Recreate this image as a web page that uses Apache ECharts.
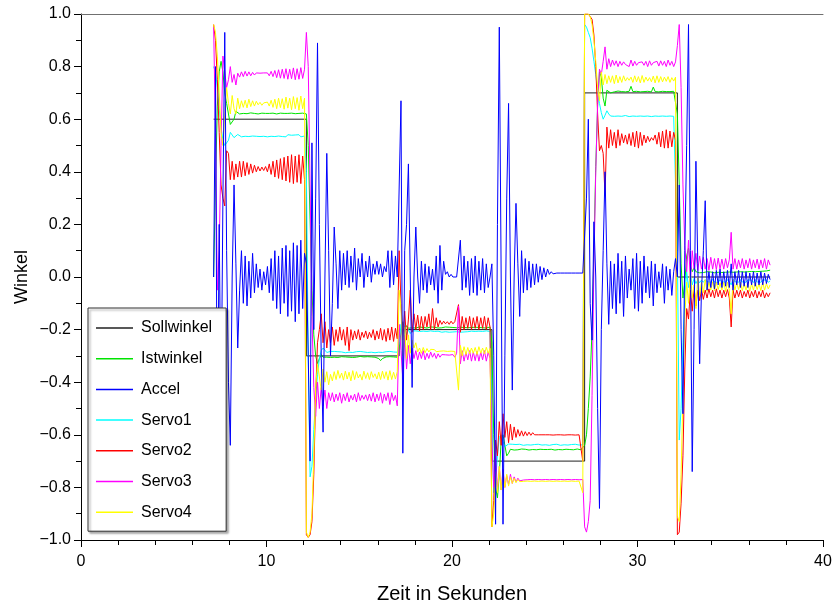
<!DOCTYPE html>
<html>
<head>
<meta charset="utf-8">
<script src="https://cdn.jsdelivr.net/npm/echarts@6/dist/echarts.min.js"></script>
<style>
html,body{margin:0;padding:0;background:#fff;}
#chart{width:837px;height:605px;}
</style>
</head>
<body>
<div id="chart"></div>
<script>
// sampling of the recorded signals: first sample time and spacing (s)
const tStart = 7.15;
const tStep = 0.1;

const seriesNames = ['Sollwinkel','Istwinkel','Accel','Servo1','Servo2','Servo3','Servo4'];
const xTicks = [0, 10, 20, 30, 40];

// Sollwinkel: step function (time, value)
const sollT = [7.15, 12.15, 12.15, 17.15, 17.15, 22.15, 22.15, 27.15, 27.15, 32.15, 32.15, 37.15];
const sollV = [0.6, 0.6, -0.3, -0.3, -0.2, -0.2, -0.7, -0.7, 0.7, 0.7, 0.0, 0.0];

const istwinkel = [
0.0,0.35,0.65,0.78,0.82,0.78,0.70,0.66,0.62,0.58,0.575,0.60,0.63,0.635,0.62,0.615,0.622,0.623,0.621,0.622,0.624,0.621,0.622,0.623,0.62,0.622,0.623,0.621,0.622,0.624,0.622,0.621,0.623,0.622,0.62,0.622,0.623,0.621,0.622,0.624,0.622,0.621,0.623,0.622,0.621,0.623,0.622,0.621,0.623,0.622,
0.62,0.5,0.22,-0.05,-0.22,-0.3,-0.33,-0.31,-0.295,-0.305,-0.31,-0.305,-0.303,-0.306,-0.303,-0.305,-0.302,-0.306,-0.304,-0.303,-0.306,-0.304,-0.302,-0.305,-0.304,-0.306,-0.303,-0.305,-0.304,-0.302,-0.306,-0.304,-0.305,-0.303,-0.306,-0.304,-0.303,-0.305,-0.304,-0.31,-0.318,-0.31,-0.305,-0.304,-0.306,-0.303,-0.305,-0.304,-0.303,-0.305,
-0.27,-0.21,-0.17,-0.2,-0.185,-0.195,-0.19,-0.193,-0.191,-0.194,-0.192,-0.19,-0.193,-0.192,-0.191,-0.194,-0.192,-0.19,-0.193,-0.191,-0.192,-0.194,-0.191,-0.193,-0.192,-0.19,-0.193,-0.191,-0.194,-0.192,-0.19,-0.193,-0.192,-0.191,-0.194,-0.192,-0.19,-0.193,-0.191,-0.192,-0.194,-0.191,-0.193,-0.192,-0.19,-0.193,-0.191,-0.194,-0.192,-0.19,
-0.25,-0.6,-0.8,-0.84,-0.75,-0.62,-0.6,-0.64,-0.68,-0.67,-0.655,-0.65,-0.658,-0.655,-0.657,-0.656,-0.654,-0.657,-0.655,-0.656,-0.658,-0.655,-0.656,-0.654,-0.657,-0.656,-0.655,-0.657,-0.656,-0.654,-0.656,-0.657,-0.655,-0.656,-0.658,-0.655,-0.656,-0.654,-0.657,-0.656,-0.655,-0.657,-0.656,-0.655,-0.657,-0.656,-0.654,-0.656,-0.657,-0.655,
-0.64,-0.6,-0.5,-0.38,-0.2,0.1,0.42,0.65,0.78,0.76,0.68,0.65,0.71,0.715,0.70,0.706,0.704,0.705,0.707,0.704,0.705,0.706,0.704,0.705,0.706,0.725,0.705,0.704,0.706,0.705,0.704,0.706,0.705,0.704,0.706,0.705,0.704,0.722,0.705,0.706,0.704,0.705,0.706,0.704,0.705,0.706,0.705,0.704,0.706,0.705,
0.62,0.35,0.05,-0.08,-0.02,0.08,0.11,0.05,0.02,0.035,0.02,0.018,0.016,0.019,0.017,0.018,0.02,0.017,0.019,0.018,0.016,0.019,0.018,0.02,0.017,0.019,0.018,0.02,0.019,0.021,0.018,0.02,0.019,0.021,0.02,0.022,0.019,0.021,0.02,0.022,0.021,0.023,0.02,0.022,0.021,0.024,0.022,0.025,0.023,0.025,0.026
];

const accel = [
0.0,0.8,-0.7,0.2,-0.55,0.3,0.93,0.1,-0.4,-0.64,0.0,0.35,0.05,-0.27,-0.05,0.1,-0.1,0.08,-0.11,0.06,-0.08,0.09,-0.06,0.05,-0.04,0.03,-0.05,0.02,-0.03,0.04,-0.06,0.07,-0.09,0.1,-0.12,0.08,-0.14,0.11,-0.1,0.12,-0.15,0.1,-0.13,0.13,-0.17,0.12,-0.14,0.14,-0.12,0.09,
0.05,-0.3,-0.7,0.51,-0.2,0.3,0.89,0.2,-0.3,-0.59,0.0,0.47,0.1,-0.3,-0.1,0.19,0.05,-0.12,0.1,-0.05,0.09,-0.03,0.1,-0.04,0.08,-0.02,0.11,-0.05,0.07,0.0,0.09,-0.04,0.06,0.0,0.08,-0.02,0.05,0.01,0.06,0.01,0.05,0.0,0.04,0.02,0.1,-0.04,0.1,-0.03,0.08,0.0,
0.0,0.67,-0.67,0.1,0.2,0.43,0.0,-0.42,0.0,0.19,0.0,-0.1,0.06,-0.05,0.05,-0.06,0.04,-0.03,0.03,-0.05,0.08,-0.1,0.12,-0.05,0.06,0.01,0.02,0.0,0.01,0.0,0.005,0.0,0.0,0.14,-0.05,0.08,-0.04,0.06,-0.07,0.07,-0.06,0.08,-0.07,0.06,-0.05,0.07,-0.06,0.05,-0.04,0.0,
0.05,-0.3,-0.94,0.2,0.95,0.95,-0.94,-0.3,0.3,0.66,0.0,-0.43,0.0,0.28,0.05,-0.15,0.1,-0.06,0.07,-0.05,0.06,-0.04,0.05,-0.03,0.05,-0.02,0.04,-0.01,0.035,0.0,0.03,0.01,0.02,0.012,0.015,0.015,0.015,0.015,0.015,0.015,0.015,0.015,0.015,0.015,0.015,0.015,0.015,0.015,0.015,0.015,
0.015,0.3,0.6,-0.1,-0.24,0.21,0.0,-0.5,-0.88,-0.2,0.1,0.4,0.05,-0.18,0.06,-0.12,0.05,-0.14,0.09,-0.1,0.06,-0.15,0.08,-0.08,0.03,-0.05,0.07,-0.12,0.09,-0.13,0.06,-0.1,0.08,-0.06,0.04,-0.08,0.06,-0.11,0.05,-0.06,0.02,-0.04,0.05,-0.1,0.04,-0.05,0.03,-0.07,0.02,0.07,
0.0,0.35,-0.2,-0.52,0.1,0.5,0.96,0.1,-0.74,-0.2,0.44,0.05,-0.33,-0.05,0.1,0.29,-0.05,0.02,-0.04,0.02,-0.045,0.025,-0.03,0.03,-0.04,0.02,-0.035,0.025,-0.04,0.05,-0.05,0.02,-0.03,0.025,-0.04,0.02,-0.035,0.02,-0.04,0.015,-0.03,0.02,-0.035,0.015,-0.03,0.02,-0.03,0.015,-0.025,0.01,-0.01
];

const servo1 = [
0.80,0.78,0.72,0.64,0.57,0.52,0.50,0.495,0.52,0.55,0.55,0.53,0.535,0.542,0.536,0.533,0.54,0.535,0.541,0.534,0.539,0.536,0.538,0.535,0.54,0.534,0.539,0.535,0.541,0.533,0.54,0.535,0.539,0.534,0.541,0.536,0.538,0.534,0.54,0.533,0.541,0.535,0.539,0.534,0.54,0.535,0.541,0.533,0.539,0.536,
0.4,-0.3,-0.76,-0.72,-0.58,-0.46,-0.37,-0.31,-0.28,-0.27,-0.278,-0.287,-0.29,-0.283,-0.286,-0.283,-0.288,-0.284,-0.287,-0.285,-0.283,-0.288,-0.284,-0.286,-0.283,-0.287,-0.285,-0.284,-0.288,-0.283,-0.286,-0.285,-0.284,-0.287,-0.283,-0.286,-0.285,-0.288,-0.284,-0.286,-0.283,-0.287,-0.285,-0.284,-0.286,-0.283,-0.287,-0.285,-0.284,-0.286,
-0.25,-0.18,-0.23,-0.19,-0.22,-0.2,-0.215,-0.205,-0.208,-0.205,-0.21,-0.207,-0.209,-0.206,-0.21,-0.207,-0.208,-0.205,-0.21,-0.207,-0.209,-0.206,-0.208,-0.21,-0.206,-0.208,-0.207,-0.21,-0.205,-0.209,-0.207,-0.208,-0.206,-0.21,-0.207,-0.209,-0.205,-0.208,-0.21,-0.206,-0.208,-0.207,-0.209,-0.206,-0.21,-0.207,-0.208,-0.205,-0.209,-0.207,
-0.55,-0.82,-0.78,-0.68,-0.61,-0.6,-0.625,-0.645,-0.64,-0.635,-0.638,-0.636,-0.64,-0.637,-0.639,-0.636,-0.638,-0.64,-0.637,-0.638,-0.636,-0.639,-0.638,-0.637,-0.64,-0.636,-0.638,-0.639,-0.637,-0.638,-0.636,-0.64,-0.638,-0.637,-0.639,-0.636,-0.638,-0.64,-0.637,-0.638,-0.636,-0.639,-0.638,-0.637,-0.64,-0.636,-0.638,-0.639,-0.637,-0.638,
0.96,0.95,0.93,0.91,0.87,0.82,0.77,0.71,0.66,0.625,0.6,0.615,0.632,0.62,0.612,0.613,0.611,0.614,0.612,0.615,0.611,0.613,0.614,0.612,0.61,0.614,0.612,0.613,0.611,0.615,0.612,0.613,0.611,0.614,0.612,0.613,0.61,0.614,0.612,0.613,0.611,0.615,0.612,0.613,0.611,0.614,0.612,0.613,0.611,0.613,
0.1,-0.62,-0.5,-0.25,-0.08,0.02,-0.04,0.01,-0.03,-0.005,-0.025,-0.01,-0.022,-0.012,-0.02,-0.01,-0.018,-0.012,-0.02,-0.009,-0.019,-0.013,-0.021,-0.01,-0.018,-0.012,-0.02,-0.01,-0.019,-0.03,-0.008,-0.018,-0.012,-0.02,-0.01,-0.019,-0.013,-0.02,-0.011,-0.018,-0.012,-0.021,-0.01,-0.019,-0.013,-0.02,-0.011,-0.018,-0.012,-0.02,-0.015
];

const servo2 = [
0.96,0.90,0.75,0.55,0.35,0.30,0.27,0.48,0.47,0.37,0.44,0.37,0.43,0.38,0.44,0.38,0.44,0.385,0.435,0.39,0.43,0.395,0.425,0.40,0.42,0.403,0.418,0.405,0.42,0.40,0.43,0.39,0.44,0.38,0.445,0.375,0.45,0.37,0.455,0.365,0.46,0.36,0.465,0.355,0.46,0.36,0.465,0.355,0.46,0.37,
-0.98,-0.99,-0.98,-0.93,-0.75,-0.45,-0.25,-0.20,-0.14,-0.25,-0.17,-0.27,-0.2,-0.25,-0.19,-0.26,-0.2,-0.245,-0.19,-0.24,-0.2,-0.26,-0.19,-0.28,-0.2,-0.24,-0.205,-0.235,-0.2,-0.24,-0.21,-0.23,-0.205,-0.235,-0.21,-0.23,-0.2,-0.24,-0.205,-0.235,-0.195,-0.24,-0.2,-0.245,-0.195,-0.24,-0.19,-0.245,-0.195,-0.235,
0.10,-0.10,-0.24,-0.13,-0.24,-0.16,-0.05,-0.21,-0.14,-0.2,-0.145,-0.205,-0.15,-0.2,-0.15,-0.19,-0.14,-0.2,-0.12,-0.2,-0.155,-0.19,-0.165,-0.18,-0.168,-0.178,-0.17,-0.18,-0.168,-0.178,-0.17,-0.175,-0.105,-0.21,-0.15,-0.2,-0.155,-0.195,-0.15,-0.2,-0.155,-0.195,-0.15,-0.2,-0.155,-0.195,-0.15,-0.2,-0.155,-0.19,
-0.95,-0.85,-0.62,-0.68,-0.55,-0.64,-0.52,-0.61,-0.55,-0.63,-0.56,-0.62,-0.57,-0.61,-0.58,-0.605,-0.585,-0.605,-0.588,-0.603,-0.59,-0.602,-0.592,-0.6,-0.594,-0.6,-0.595,-0.6,-0.596,-0.6,-0.595,-0.6,-0.596,-0.601,-0.595,-0.6,-0.596,-0.6,-0.595,-0.601,-0.596,-0.6,-0.595,-0.6,-0.596,-0.601,-0.595,-0.6,-0.598,-0.7,
1.0,1.0,1.0,1.0,0.98,0.92,0.8,0.62,0.48,0.50,0.47,0.31,0.57,0.49,0.56,0.5,0.55,0.49,0.56,0.5,0.545,0.51,0.54,0.505,0.545,0.5,0.55,0.495,0.555,0.49,0.55,0.5,0.54,0.51,0.535,0.515,0.53,0.52,0.54,0.505,0.55,0.495,0.555,0.49,0.56,0.49,0.555,0.495,0.55,0.52,
-0.98,-0.97,-0.86,-0.68,-0.35,-0.12,-0.16,-0.05,-0.13,-0.04,-0.11,-0.05,-0.09,-0.045,-0.085,-0.05,-0.08,-0.045,-0.075,-0.05,-0.08,-0.045,-0.075,-0.05,-0.08,-0.05,-0.075,-0.048,-0.08,-0.19,-0.05,-0.08,-0.05,-0.075,-0.05,-0.08,-0.055,-0.075,-0.05,-0.08,-0.055,-0.075,-0.05,-0.08,-0.055,-0.075,-0.05,-0.08,-0.06,-0.075,-0.06
];

const servo3 = [
0.95,0.55,-0.05,0.1,0.5,0.84,0.78,0.72,0.75,0.8,0.74,0.77,0.73,0.775,0.76,0.78,0.762,0.782,0.764,0.78,0.765,0.778,0.768,0.776,0.77,0.775,0.769,0.776,0.77,0.776,0.765,0.782,0.762,0.785,0.758,0.788,0.756,0.79,0.755,0.792,0.752,0.79,0.754,0.795,0.75,0.792,0.752,0.796,0.755,0.79,
0.93,0.8,0.35,-0.15,-0.42,-0.53,-0.4,-0.5,-0.42,-0.49,-0.43,-0.5,-0.44,-0.47,-0.44,-0.475,-0.445,-0.47,-0.44,-0.48,-0.445,-0.47,-0.44,-0.475,-0.45,-0.468,-0.445,-0.475,-0.44,-0.47,-0.45,-0.465,-0.448,-0.47,-0.445,-0.472,-0.44,-0.475,-0.445,-0.47,-0.44,-0.48,-0.445,-0.47,-0.44,-0.485,-0.44,-0.47,-0.45,-0.49,
-0.18,-0.28,-0.39,-0.22,-0.35,-0.26,-0.33,-0.27,-0.31,-0.28,-0.315,-0.285,-0.31,-0.28,-0.315,-0.29,-0.31,-0.285,-0.305,-0.29,-0.31,-0.292,-0.305,-0.295,-0.302,-0.296,-0.302,-0.297,-0.303,-0.295,-0.305,-0.29,-0.11,-0.33,-0.28,-0.32,-0.285,-0.315,-0.28,-0.32,-0.285,-0.318,-0.282,-0.32,-0.285,-0.315,-0.28,-0.32,-0.285,-0.31,
-0.62,-0.80,-0.68,-0.81,-0.72,-0.81,-0.73,-0.80,-0.755,-0.79,-0.75,-0.785,-0.76,-0.78,-0.765,-0.775,-0.768,-0.772,-0.766,-0.771,-0.767,-0.77,-0.766,-0.771,-0.768,-0.77,-0.766,-0.771,-0.767,-0.77,-0.766,-0.771,-0.768,-0.77,-0.766,-0.771,-0.767,-0.77,-0.766,-0.771,-0.768,-0.77,-0.766,-0.771,-0.767,-0.77,-0.766,-0.771,-0.768,-0.77,
-0.95,-0.97,-0.93,-0.85,-0.45,0.05,0.4,0.66,0.79,0.77,0.82,0.875,0.79,0.83,0.8,0.825,0.805,0.822,0.8,0.82,0.805,0.818,0.808,0.815,0.8,0.825,0.802,0.82,0.805,0.815,0.808,0.818,0.805,0.82,0.8,0.822,0.805,0.815,0.808,0.82,0.802,0.822,0.805,0.82,0.8,0.825,0.805,0.82,0.8,0.818,
0.88,0.96,0.72,0.35,0.12,0.02,0.14,-0.02,0.1,0.03,0.09,0.025,0.08,0.03,0.075,0.03,0.07,0.025,0.075,0.03,0.07,0.028,0.072,0.03,0.068,0.03,0.07,0.035,0.065,0.17,0.03,0.07,0.03,0.065,0.035,0.07,0.03,0.065,0.035,0.07,0.03,0.065,0.035,0.068,0.03,0.065,0.035,0.07,0.03,0.065,0.045
];

const servo4 = [
0.96,0.93,0.84,0.70,0.55,0.50,0.62,0.72,0.66,0.62,0.69,0.64,0.62,0.68,0.64,0.67,0.645,0.672,0.643,0.676,0.648,0.670,0.650,0.668,0.655,0.664,0.653,0.662,0.656,0.665,0.650,0.672,0.645,0.676,0.640,0.680,0.644,0.678,0.638,0.684,0.642,0.680,0.636,0.686,0.640,0.682,0.634,0.688,0.640,0.680,
-0.97,-0.99,-0.97,-0.90,-0.68,-0.42,-0.33,-0.38,-0.43,-0.35,-0.40,-0.36,-0.41,-0.37,-0.395,-0.36,-0.39,-0.355,-0.385,-0.365,-0.392,-0.358,-0.388,-0.362,-0.395,-0.356,-0.39,-0.36,-0.384,-0.37,-0.392,-0.358,-0.386,-0.364,-0.39,-0.36,-0.382,-0.368,-0.388,-0.362,-0.39,-0.358,-0.386,-0.36,-0.392,-0.356,-0.39,-0.362,-0.388,-0.36,
-0.05,-0.12,-0.30,-0.19,-0.31,-0.22,-0.29,-0.24,-0.27,-0.25,-0.285,-0.27,-0.29,-0.268,-0.288,-0.272,-0.285,-0.275,-0.282,-0.276,-0.284,-0.278,-0.282,-0.279,-0.281,-0.278,-0.283,-0.277,-0.282,-0.278,-0.283,-0.28,-0.43,-0.26,-0.3,-0.265,-0.295,-0.268,-0.292,-0.27,-0.29,-0.268,-0.295,-0.265,-0.29,-0.27,-0.293,-0.267,-0.29,-0.272,
-0.95,-0.90,-0.74,-0.82,-0.72,-0.81,-0.74,-0.80,-0.75,-0.795,-0.76,-0.785,-0.765,-0.782,-0.77,-0.778,-0.774,-0.777,-0.773,-0.776,-0.774,-0.777,-0.773,-0.776,-0.775,-0.777,-0.773,-0.776,-0.774,-0.777,-0.773,-0.776,-0.775,-0.777,-0.773,-0.776,-0.774,-0.777,-0.773,-0.776,-0.775,-0.777,-0.773,-0.776,-0.774,-0.777,-0.773,-0.776,-0.775,-0.82,
1.0,1.0,1.0,0.99,0.96,0.90,0.82,0.72,0.67,0.78,0.73,0.77,0.735,0.765,0.74,0.765,0.735,0.768,0.738,0.762,0.74,0.765,0.745,0.758,0.748,0.76,0.74,0.765,0.742,0.762,0.738,0.766,0.74,0.76,0.745,0.758,0.742,0.764,0.738,0.765,0.74,0.762,0.742,0.76,0.744,0.762,0.74,0.758,0.745,0.76,
-0.91,-0.93,-0.75,-0.45,-0.15,-0.02,-0.10,0.02,-0.08,-0.03,-0.12,0.0,-0.07,-0.02,-0.06,-0.01,-0.055,-0.02,-0.05,-0.018,-0.052,-0.02,-0.048,-0.022,-0.05,-0.02,-0.055,-0.02,-0.05,-0.14,-0.01,-0.05,-0.022,-0.048,-0.02,-0.052,-0.025,-0.05,-0.02,-0.055,-0.025,-0.05,-0.02,-0.048,-0.025,-0.052,-0.02,-0.05,-0.025,-0.045,-0.03
];

const colors = ['#202020', '#00e400', '#0000ff', '#00ffff', '#ff0000', '#ff00ff', '#ffff00'];
const FONT = '"Liberation Sans", Arial, Helvetica, sans-serif';

function sampled(values) {
  return values.map((v, i) => [+(tStart + i * tStep).toFixed(2), v]);
}
const sollData = sollT.map((t, i) => [t, sollV[i]]);
const seriesValues = [null, istwinkel, accel, servo1, servo2, servo3, servo4];

const series = seriesNames.map((name, k) => ({
  name: name,
  type: 'line',
  data: k === 0 ? sollData : sampled(seriesValues[k]),
  showSymbol: false,
  symbol: 'none',
  sampling: null,
  clip: true,
  z: k === 2 ? 3 : 2,
  lineStyle: { width: 1, color: colors[k] },
  itemStyle: { color: colors[k] },
  animation: false
}));

function yFmt(v) {
  const r = Math.round(v * 10) / 10;
  if (Math.abs(r) < 1e-9) return '0.0';
  return (r < 0 ? '\u2212' : '') + Math.abs(r).toFixed(1);
}

const chart = echarts.init(document.getElementById('chart'), null, { renderer: 'canvas' });
chart.setOption({
  animation: false,
  backgroundColor: '#ffffff',
  textStyle: { fontFamily: FONT },
  grid: { left: 81, right: 14, top: 14, bottom: 65, containLabel: false, outerBoundsMode: 'none' },
  legend: {
    data: seriesNames,
    orient: 'vertical',
    left: 88,
    top: 308,
    icon: 'rect',
    itemWidth: 37,
    itemHeight: 1.5,
    itemGap: 14.7,
    padding: [12, 14, 11, 8],
    backgroundColor: '#ffffff',
    borderColor: '#303030',
    borderWidth: 1,
    shadowColor: 'rgba(0,0,0,0.35)',
    shadowOffsetX: 2,
    shadowOffsetY: 2,
    shadowBlur: 2,
    selectedMode: false,
    textStyle: { fontSize: 16, color: '#000', fontFamily: FONT, lineHeight: 16, padding: [0, 0, 0, 3] }
  },
  xAxis: [{
    type: 'value',
    min: xTicks[0],
    max: xTicks[xTicks.length - 1],
    interval: 10,
    position: 'bottom',
    name: 'Zeit in Sekunden',
    nameLocation: 'middle',
    nameGap: 44,
    nameMoveOverlap: false,
    nameTextStyle: { fontSize: 20, color: '#000', fontFamily: FONT },
    axisLine: { show: true, onZero: false, lineStyle: { color: '#000', width: 1 } },
    axisTick: { show: true, inside: false, length: 7, lineStyle: { color: '#000' } },
    minorTick: { show: true, splitNumber: 5, length: 5, lineStyle: { color: '#000' } },
    axisLabel: { fontSize: 16, color: '#000', margin: 14, fontFamily: FONT },
    splitLine: { show: false }
  }, {
    type: 'value',
    min: 0, max: 40,
    position: 'top',
    axisLine: { show: true, onZero: false, lineStyle: { color: '#707070', width: 1 } },
    axisTick: { show: false },
    axisLabel: { show: false },
    splitLine: { show: false }
  }],
  yAxis: {
    type: 'value',
    min: -1,
    max: 1,
    interval: 0.2,
    name: 'Winkel',
    nameLocation: 'middle',
    nameGap: 50,
    nameMoveOverlap: false,
    nameTextStyle: { fontSize: 18, color: '#000', fontFamily: FONT },
    axisLine: { show: true, onZero: false, lineStyle: { color: '#000', width: 1 } },
    axisTick: { show: true, inside: false, length: 7, lineStyle: { color: '#000' } },
    minorTick: { show: true, splitNumber: 2, length: 5, lineStyle: { color: '#000' } },
    axisLabel: { fontSize: 16, color: '#000', margin: 10, formatter: yFmt, fontFamily: FONT },
    splitLine: { show: false }
  },
  series: series
});
</script>
</body>
</html>
